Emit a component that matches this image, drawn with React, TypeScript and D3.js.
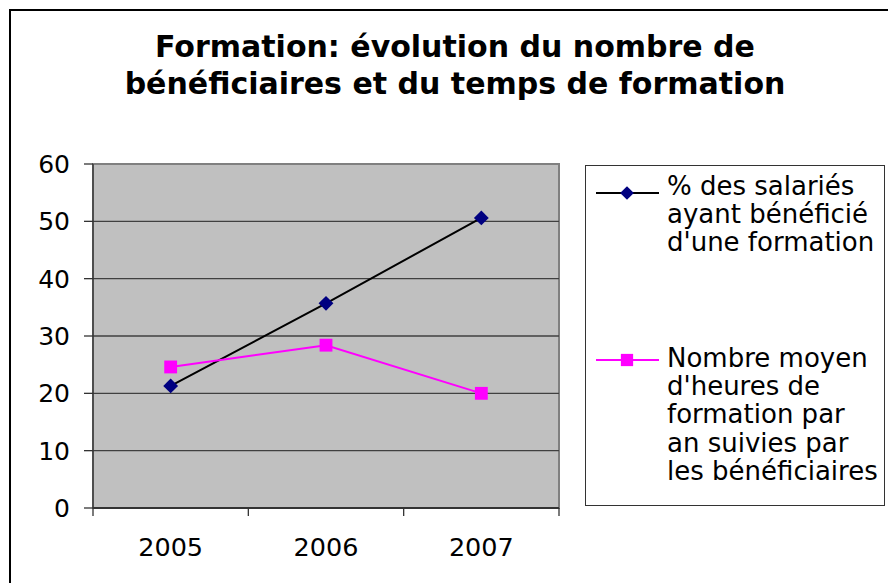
import { useEffect, useRef } from "react";
import * as d3 from "d3";

const years = ["2005", "2006", "2007"];
const pctSalaries = [21.3, 35.7, 50.6];
const heuresMoyennes = [24.6, 28.4, 20.0];
const yTicks = [0, 10, 20, 30, 40, 50, 60];
const titleLines = ["Formation: évolution du nombre de", "bénéficiaires et du temps de formation"];
const legend1 = ["% des salariés", "ayant bénéficié", "d'une formation"];
const legend2 = ["Nombre moyen", "d'heures de", "formation par", "an suivies par", "les bénéficiaires"];

const W = 888,
  H = 583;
const font = "Verdana, 'DejaVu Sans', sans-serif";

function draw(el: SVGSVGElement) {
  const svg = d3.select(el);
  svg.selectAll("*").remove();
  const plot = { left: 93, right: 559, top: 164, bottom: 508 };

  svg.append("rect").attr("x", 0).attr("y", 0).attr("width", W).attr("height", H).attr("fill", "#fff");
  // outer chart border, runs off the bottom/right edge
  svg
    .append("rect")
    .attr("x", 10)
    .attr("y", 10)
    .attr("width", 900)
    .attr("height", 600)
    .attr("fill", "none")
    .attr("stroke", "#000")
    .attr("stroke-width", 2);

  const title = svg
    .append("text")
    .attr("text-anchor", "middle")
    .attr("font-family", font)
    .attr("font-weight", "bold")
    .attr("font-size", 30)
    .attr("fill", "#000");
  titleLines.forEach((t, i) => {
    title.append("tspan").attr("x", 455).attr("y", 57 + i * 37).text(t);
  });

  const x = d3.scaleBand().domain(years).range([plot.left, plot.right]);
  const y = d3.scaleLinear().domain([0, 60]).range([plot.bottom, plot.top]);

  svg
    .append("rect")
    .attr("x", plot.left)
    .attr("y", plot.top)
    .attr("width", plot.right - plot.left)
    .attr("height", plot.bottom - plot.top)
    .attr("fill", "#c0c0c0")
    .attr("stroke", "#808080")
    .attr("stroke-width", 2);

  svg
    .selectAll(".grid")
    .data(yTicks.filter((d) => d > 0 && d < 60))
    .join("line")
    .attr("x1", plot.left)
    .attr("x2", plot.right)
    .attr("y1", (d) => y(d))
    .attr("y2", (d) => y(d))
    .attr("stroke", "#404040")
    .attr("stroke-width", 1.3);

  // axes
  svg.append("line").attr("x1", plot.left).attr("x2", plot.left).attr("y1", plot.top).attr("y2", plot.bottom + 8).attr("stroke", "#333").attr("stroke-width", 1.3);
  svg.append("line").attr("x1", plot.left).attr("x2", plot.right).attr("y1", plot.bottom).attr("y2", plot.bottom).attr("stroke", "#333").attr("stroke-width", 2);

  svg
    .selectAll(".ytick")
    .data(yTicks)
    .join("line")
    .attr("x1", plot.left - 9)
    .attr("x2", plot.left)
    .attr("y1", (d) => y(d))
    .attr("y2", (d) => y(d))
    .attr("stroke", "#333")
    .attr("stroke-width", 1.3);
  svg
    .selectAll(".ylab")
    .data(yTicks)
    .join("text")
    .attr("x", 70)
    .attr("y", (d) => y(d) + 9)
    .attr("text-anchor", "end")
    .attr("font-family", font)
    .attr("font-size", 25)
    .text((d) => d);

  const bounds = [...years.map((d) => x(d)!), plot.right];
  svg
    .selectAll(".xtick")
    .data(bounds.slice(1))
    .join("line")
    .attr("x1", (d) => d)
    .attr("x2", (d) => d)
    .attr("y1", plot.bottom)
    .attr("y2", plot.bottom + 8)
    .attr("stroke", "#333")
    .attr("stroke-width", 1.3);
  svg
    .selectAll(".xlab")
    .data(years)
    .join("text")
    .attr("x", (d) => x(d)! + x.bandwidth() / 2)
    .attr("y", 556)
    .attr("text-anchor", "middle")
    .attr("font-family", font)
    .attr("font-size", 25.5)
    .text((d) => d);

  const cx = (i: number) => x(years[i])! + x.bandwidth() / 2;
  const line = d3
    .line<number>()
    .x((_, i) => cx(i))
    .y((d) => y(d));

  svg.append("path").datum(pctSalaries).attr("d", line).attr("fill", "none").attr("stroke", "#000").attr("stroke-width", 2);
  svg.append("path").datum(heuresMoyennes).attr("d", line).attr("fill", "none").attr("stroke", "#ff00ff").attr("stroke-width", 2);

  const diamond = d3.symbol(d3.symbolDiamond2, 140);
  const square = d3.symbol(d3.symbolSquare, 165);

  svg
    .selectAll(".sq")
    .data(heuresMoyennes)
    .join("path")
    .attr("d", square)
    .attr("transform", (d, i) => `translate(${cx(i)},${y(d)})`)
    .attr("fill", "#ff00ff");
  svg
    .selectAll(".dm")
    .data(pctSalaries)
    .join("path")
    .attr("d", diamond)
    .attr("transform", (d, i) => `translate(${cx(i)},${y(d)})`)
    .attr("fill", "#000080");

  // legend
  svg
    .append("rect")
    .attr("x", 585.5)
    .attr("y", 165.5)
    .attr("width", 299)
    .attr("height", 340)
    .attr("fill", "#fff")
    .attr("stroke", "#333")
    .attr("stroke-width", 1);

  const entries = [
    { lines: legend1, y0: 195, color: "#000", marker: d3.symbol(d3.symbolDiamond2, 120), mColor: "#000080", sy: 193 },
    { lines: legend2, y0: 367, color: "#ff00ff", marker: d3.symbol(d3.symbolSquare, 150), mColor: "#ff00ff", sy: 360 },
  ];
  entries.forEach((e) => {
    svg.append("line").attr("x1", 596).attr("x2", 659).attr("y1", e.sy).attr("y2", e.sy).attr("stroke", e.color).attr("stroke-width", 2);
    svg.append("path").attr("d", e.marker).attr("transform", `translate(627,${e.sy})`).attr("fill", e.mColor);
    const t = svg.append("text").attr("font-family", font).attr("font-size", 26).attr("fill", "#000");
    e.lines.forEach((l, i) => t.append("tspan").attr("x", 667).attr("y", e.y0 + i * 28.2).text(l));
  });
}

export default function App() {
  const ref = useRef<SVGSVGElement>(null);
  useEffect(() => {
    if (ref.current) draw(ref.current);
  }, []);
  return <svg ref={ref} width={W} height={H} style={{ position: "absolute", left: 0, top: 0 }} />;
}
